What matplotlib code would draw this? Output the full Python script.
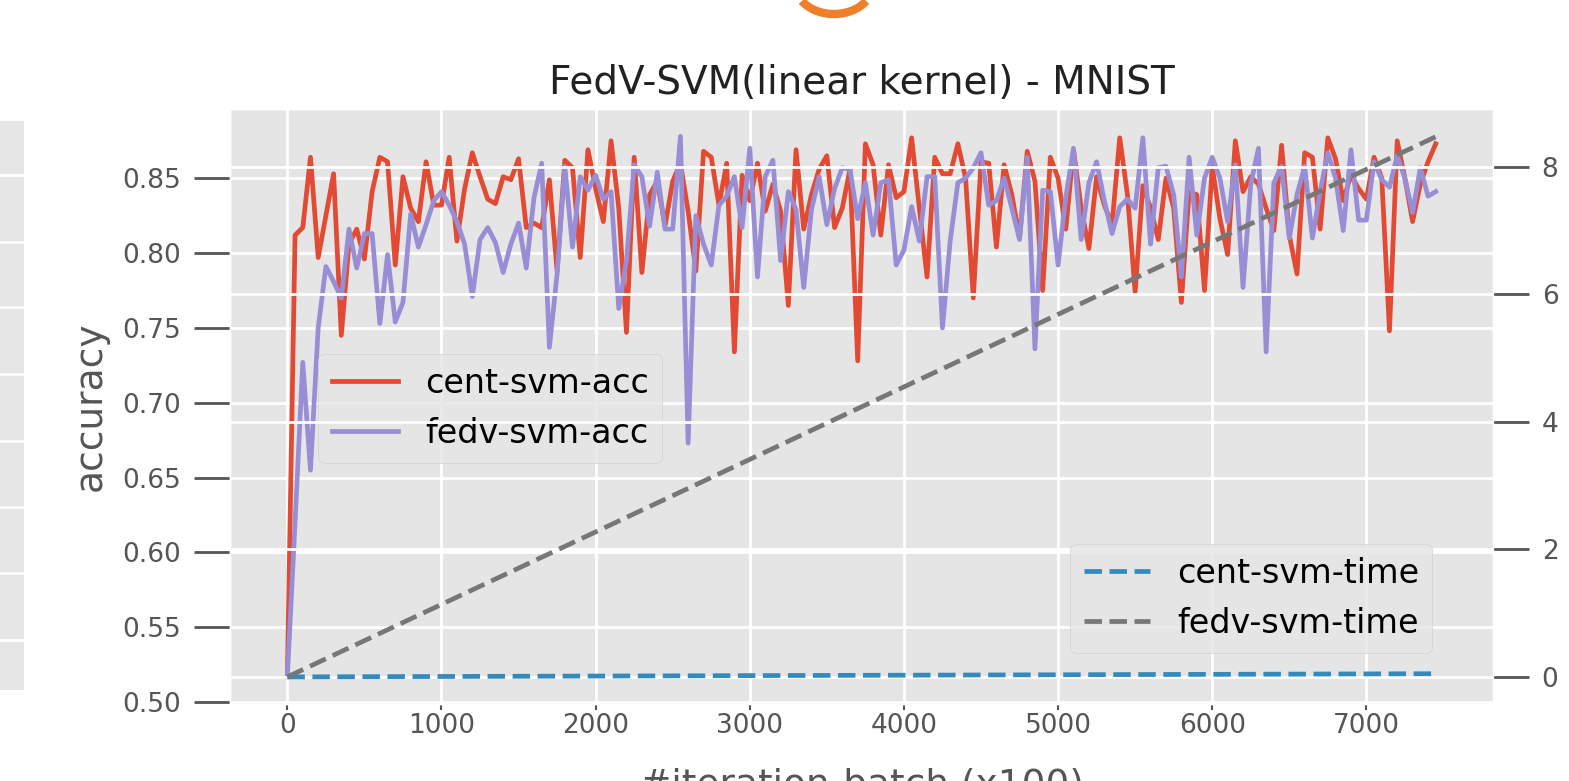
import matplotlib
matplotlib.use("Agg")
import matplotlib.pyplot as plt
from matplotlib.patches import Arc
from matplotlib.lines import Line2D

plt.style.use("ggplot")

# accuracy sampled every 50 batches (x100)
STEP = 50
cent_svm_acc = [
    0.517, 0.812, 0.817, 0.864, 0.797, 0.825, 0.853, 0.745, 0.806, 0.816,
    0.796, 0.841, 0.864, 0.861, 0.792, 0.851, 0.830, 0.821, 0.861, 0.832,
    0.832, 0.864, 0.808, 0.843, 0.867, 0.851, 0.836, 0.833, 0.851, 0.849,
    0.863, 0.817, 0.820, 0.817, 0.849, 0.788, 0.862, 0.857, 0.797, 0.869,
    0.843, 0.821, 0.875, 0.830, 0.747, 0.864, 0.787, 0.839, 0.848, 0.818,
    0.848, 0.860, 0.828, 0.788, 0.868, 0.864, 0.832, 0.860, 0.734, 0.852,
    0.835, 0.860, 0.828, 0.846, 0.828, 0.765, 0.869, 0.816, 0.839, 0.856,
    0.865, 0.817, 0.830, 0.856, 0.728, 0.873, 0.859, 0.812, 0.859, 0.837,
    0.841, 0.877, 0.830, 0.784, 0.864, 0.853, 0.853, 0.873, 0.850, 0.770,
    0.861, 0.860, 0.804, 0.859, 0.839, 0.810, 0.868, 0.848, 0.775, 0.864,
    0.850, 0.816, 0.869, 0.830, 0.803, 0.851, 0.832, 0.819, 0.877, 0.839,
    0.774, 0.845, 0.830, 0.809, 0.850, 0.830, 0.767, 0.841, 0.839, 0.775,
    0.858, 0.823, 0.799, 0.875, 0.841, 0.851, 0.846, 0.830, 0.815, 0.872,
    0.812, 0.786, 0.867, 0.864, 0.816, 0.877, 0.863, 0.835, 0.852, 0.843,
    0.836, 0.864, 0.850, 0.748, 0.875, 0.850, 0.821, 0.846, 0.861, 0.873,
]
fedv_svm_acc = [
    0.517, 0.620, 0.727, 0.655, 0.750, 0.791, 0.781, 0.770, 0.816, 0.790,
    0.813, 0.813, 0.753, 0.799, 0.754, 0.767, 0.826, 0.804, 0.819, 0.835,
    0.841, 0.832, 0.821, 0.806, 0.771, 0.809, 0.817, 0.807, 0.787, 0.806,
    0.820, 0.790, 0.837, 0.860, 0.737, 0.786, 0.858, 0.804, 0.851, 0.842,
    0.852, 0.836, 0.841, 0.763, 0.795, 0.859, 0.851, 0.818, 0.854, 0.816,
    0.816, 0.878, 0.673, 0.825, 0.806, 0.792, 0.832, 0.838, 0.851, 0.817,
    0.870, 0.784, 0.851, 0.862, 0.795, 0.841, 0.829, 0.777, 0.829, 0.851,
    0.819, 0.843, 0.857, 0.856, 0.823, 0.847, 0.812, 0.847, 0.849, 0.792,
    0.802, 0.831, 0.808, 0.851, 0.851, 0.750, 0.808, 0.847, 0.850, 0.857,
    0.867, 0.832, 0.835, 0.850, 0.830, 0.809, 0.864, 0.736, 0.842, 0.841,
    0.792, 0.837, 0.870, 0.809, 0.847, 0.861, 0.835, 0.813, 0.831, 0.836,
    0.830, 0.877, 0.806, 0.857, 0.858, 0.839, 0.784, 0.864, 0.812, 0.850,
    0.864, 0.850, 0.821, 0.859, 0.777, 0.846, 0.870, 0.734, 0.847, 0.858,
    0.810, 0.839, 0.858, 0.810, 0.841, 0.867, 0.850, 0.815, 0.869, 0.822,
    0.822, 0.861, 0.849, 0.844, 0.865, 0.850, 0.827, 0.857, 0.838, 0.841,
]
iterations = list(range(0, STEP * len(cent_svm_acc), STEP))

# training time (right axis), straight lines between first and last batch
time_iterations = [0, 7450]
cent_svm_time = [0.0, 0.05]
fedv_svm_time = [0.0, 8.47]

fig = plt.figure(figsize=(15.69, 7.81), dpi=100)
ax = fig.add_axes([0.1466, 0.099, 0.8050, 0.761])
ax2 = ax.twinx()

l1, = ax.plot(iterations, cent_svm_acc, color="#E24A33", lw=3.4, label="cent-svm-acc")
l2, = ax.plot(iterations, fedv_svm_acc, color="#988ED5", lw=3.4, label="fedv-svm-acc")
l3, = ax2.plot(time_iterations, cent_svm_time, color="#348ABD", lw=3.4, ls="--",
               label="cent-svm-time")
l4, = ax2.plot(time_iterations, fedv_svm_time, color="#777777", lw=3.4, ls="--",
               label="fedv-svm-time")

ax.set_xlim(-372, 7822)
ax.set_ylim(0.499, 0.896)
ax2.set_ylim(-0.42, 8.9)
ax.set_yticks([0.50, 0.55, 0.60, 0.65, 0.70, 0.75, 0.80, 0.85])
ax2.set_yticks([0, 2, 4, 6, 8])
ax.set_xticks([0, 1000, 2000, 3000, 4000, 5000, 6000, 7000])

for a in (ax, ax2):
    a.grid(True, color="white", lw=2)
    a.tick_params(axis="y", length=26, width=2, pad=9, labelsize=19,
                  colors="#555555")
ax.tick_params(axis="x", length=4, width=1.5, pad=3, labelsize=19,
               colors="#555555")

ax.set_title("FedV-SVM(linear kernel) - MNIST", fontsize=28, pad=11,
             color="#222222")
ax.set_ylabel("accuracy", fontsize=27, color="#555555", labelpad=10)
ax.set_xlabel("#iteration-batch (x100)", fontsize=27, color="#555555", labelpad=20)

leg1 = ax.legend(handles=[l1, l2], loc="lower left", bbox_to_anchor=(0.07, 0.405),
                 fontsize=24, borderaxespad=0)
leg2 = ax2.legend(handles=[l3, l4], loc="lower right",
                  bbox_to_anchor=(0.952, 0.085), fontsize=24, borderaxespad=0)

# pieces of the surrounding page caught in the screenshot
strip = fig.add_axes([0, 0.1165, 0.0153, 0.7286])
strip.set_facecolor("#E6E6E6")
strip.set_xticks([])
strip.set_yticks([])
strip.grid(False)
for sp in strip.spines.values():
    sp.set_visible(False)
for ypix in [175, 242, 307, 374, 441, 507, 573, 640]:
    yf = 1 - ypix / 781
    fig.add_artist(Line2D([0, 0.0153], [yf, yf], transform=fig.transFigure,
                          color="white", lw=2))
fig.add_artist(Arc((834, 795), 76, 56, theta1=205, theta2=335,
                   transform=None, color="#F07F2A", lw=6))

fig.savefig("out.png", dpi=100, facecolor="white")
